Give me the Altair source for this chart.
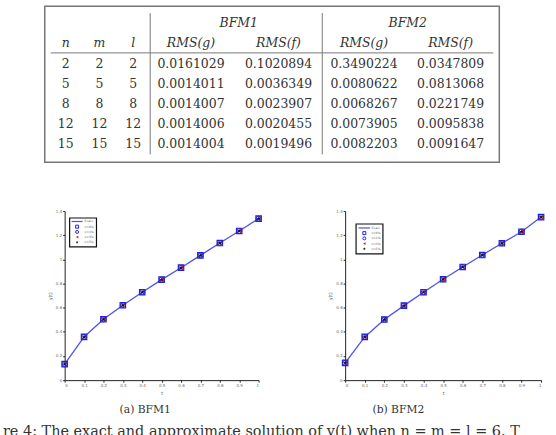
import altair as alt
import pandas as pd

# ---------------- table data ----------------
n_vals = [2, 5, 8, 12, 15]
m_vals = [2, 5, 8, 12, 15]
l_vals = [2, 5, 8, 12, 15]
bfm1_rms_g = [0.0161029, 0.0014011, 0.0014007, 0.0014006, 0.0014004]
bfm1_rms_f = [0.1020894, 0.0036349, 0.0023907, 0.0020455, 0.0019496]
bfm2_rms_g = [0.3490224, 0.0080622, 0.0068267, 0.0073905, 0.0082203]
bfm2_rms_f = [0.0347809, 0.0813068, 0.0221749, 0.0095838, 0.0091647]

# ---------------- plot data ----------------
t_vals = [0.0, 0.1, 0.2, 0.3, 0.4, 0.5, 0.6, 0.7, 0.8, 0.9, 1.0]
y_bfm1 = [0.132, 0.358, 0.504, 0.620, 0.728, 0.832, 0.931, 1.033, 1.135, 1.235, 1.337]
y_bfm2 = [0.143, 0.358, 0.502, 0.617, 0.728, 0.835, 0.937, 1.036, 1.133, 1.229, 1.350]
series = ["Exact", "σ=0%", "σ=1%", "σ=3%", "σ=5%"]
x_ticks = [0, 0.1, 0.2, 0.3, 0.4, 0.5, 0.6, 0.7, 0.8, 0.9, 1]
y_ticks = [0, 0.2, 0.4, 0.6, 0.8, 1.0, 1.2, 1.4]
captions = ["(a) BFM1", "(b) BFM2"]
footer_text = "re 4: The exact and approximate solution of y(t) when n = m = l = 6. T"

SERIF = "DejaVu Serif"
TXT = "#333333"
LINE_GRAY = "#777777"
BLUE_LINE = "#5050ec"
BLUE = "#2020dd"
RED = "#ee1111"
DARK = "#151515"
STAR = ("M0,-1L0.2245,-0.309L0.951,-0.309L0.363,0.118L0.588,0.809L0,0.382"
        "L-0.588,0.809L-0.363,0.118L-0.951,-0.309L-0.2245,-0.309Z")

one = pd.DataFrame({"k": [0]})

# ---------------- table chart ----------------
rows = [str(v) for v in n_vals]
tbl = pd.DataFrame({
    "row": rows, "n": n_vals, "m": m_vals, "l": l_vals,
    "g1": bfm1_rms_g, "f1": bfm1_rms_f, "g2": bfm2_rms_g, "f2": bfm2_rms_f,
})
row_y = alt.Y("row:N", scale=alt.Scale(type="point", domain=rows, range=[63, 144], padding=0), axis=None)

col_layout = [("n", 63, "d"), ("m", 97, "d"), ("l", 131, "d"),
              ("g1", 189, ".7f"), ("f1", 277, ".7f"), ("g2", 363, ".7f"), ("f2", 450, ".7f")]
header2 = [("n", 63), ("m", 97), ("l", 131), ("RMS(g)", 189), ("RMS(f)", 277), ("RMS(g)", 363), ("RMS(f)", 450)]
header1 = [("BFM1", 237), ("BFM2", 407)]

layers = []
layers.append(alt.Chart(one).mark_rect(filled=False, stroke=LINE_GRAY, strokeWidth=1.5).encode(
    x=alt.value(42), x2=alt.value(499), y=alt.value(5), y2=alt.value(162)))
layers.append(alt.Chart(one).mark_rule(color=LINE_GRAY, strokeWidth=1).encode(
    x=alt.value(48), x2=alt.value(493), y=alt.value(52)))
for vx in (148, 321):
    layers.append(alt.Chart(one).mark_rule(color=LINE_GRAY, strokeWidth=1).encode(
        x=alt.value(vx), y=alt.value(12), y2=alt.value(154)))
for txt, px in header1:
    layers.append(alt.Chart(one).mark_text(font=SERIF, fontSize=12.5, fontStyle="italic", color=TXT).encode(
        x=alt.value(px), y=alt.value(22), text=alt.value(txt)))
for txt, px in header2:
    layers.append(alt.Chart(one).mark_text(font=SERIF, fontSize=12.5, fontStyle="italic", color=TXT).encode(
        x=alt.value(px), y=alt.value(42), text=alt.value(txt)))
for col, px, fmt in col_layout:
    layers.append(alt.Chart(tbl).mark_text(font=SERIF, fontSize=12.5, color=TXT).encode(
        x=alt.value(px), y=row_y, text=alt.Text(f"{col}:Q", format=fmt)))

table = alt.layer(*layers).properties(width=556, height=170)


# ---------------- plots ----------------
def legend_layers(box, line_x, sym_x, txt_x, ys):
    out = []
    out.append(alt.Chart(one).mark_rect(fill="white", stroke="#111111", strokeWidth=1.2).encode(
        x=alt.value(box[0]), x2=alt.value(box[2]), y=alt.value(box[1]), y2=alt.value(box[3])))
    out.append(alt.Chart(one).mark_rule(color=BLUE_LINE, strokeWidth=1.2).encode(
        x=alt.value(line_x[0]), x2=alt.value(line_x[1]), y=alt.value(ys[0])))
    styles = [("square", False, BLUE, 9), ("circle", False, BLUE, 9),
              ("triangle-left", True, RED, 8), (STAR, True, DARK, 10)]
    for (shape, filled, col, size), yy in zip(styles, ys[1:]):
        out.append(alt.Chart(one).mark_point(shape=shape, filled=filled, color=col, size=size,
                                             strokeWidth=1, opacity=1).encode(
            x=alt.value(sym_x), y=alt.value(yy)))
    for label, yy in zip(series, ys):
        out.append(alt.Chart(one).mark_text(font="DejaVu Sans", fontSize=3, color="#555555",
                                            align="left", baseline="middle").encode(
            x=alt.value(txt_x), y=alt.value(yy), text=alt.value(label)))
    return out


def make_plot(yvals, w, leg):
    df = pd.DataFrame({"t": t_vals, "y": yvals})
    x = alt.X("t:Q", scale=alt.Scale(domain=[0, 1], nice=False),
              axis=alt.Axis(values=x_ticks, format="~g", title="t"))
    y = alt.Y("y:Q", scale=alt.Scale(domain=[0, 1.4], nice=False),
              axis=alt.Axis(values=y_ticks, format="~g", title="y(t)"))
    base = alt.Chart(df)
    line = base.mark_line(strokeWidth=1.3, color=BLUE_LINE).encode(x=x, y=y)
    sq = base.mark_point(shape="square", filled=False, color=BLUE, size=30, strokeWidth=1.2, opacity=1).encode(x=x, y=y)
    ci = base.mark_point(shape="circle", filled=False, color=BLUE, size=24, strokeWidth=1, opacity=1).encode(x=x, y=y)
    tr = base.mark_point(shape="triangle-left", filled=True, color=RED, size=14, opacity=1).encode(x=x, y=y)
    st = base.mark_point(shape=STAR, filled=True, color=DARK, size=22, opacity=1).encode(x=x, y=y)
    return alt.layer(line, sq, ci, tr, st, *leg).properties(width=w, height=170)


def spacer(w):
    return alt.Chart(one).mark_point(opacity=0).encode(x=alt.value(0), y=alt.value(0)).properties(width=w, height=170)


leg1 = legend_layers((5, 7, 32, 36), (7, 18), 12.5, 20, [10.5, 15.7, 21.0, 26.2, 31.4])
leg2 = legend_layers((11, 13, 38, 43), (13.5, 25), 19.3, 26.5, [17.0, 22.2, 27.5, 32.7, 38.0])

p1 = make_plot(y_bfm1, 195, leg1)
p2 = make_plot(y_bfm2, 197, leg2)

plots = alt.hconcat(spacer(44), p1, spacer(60), p2, spacing=0)

footer_layers = [
    alt.Chart(one).mark_text(font=SERIF, fontSize=10.8, color=TXT, align="center", baseline="middle").encode(
        x=alt.value(143), y=alt.value(15.5), text=alt.value(captions[0])),
    alt.Chart(one).mark_text(font=SERIF, fontSize=10.8, color=TXT, align="center", baseline="middle").encode(
        x=alt.value(397.5), y=alt.value(15.5), text=alt.value(captions[1])),
    alt.Chart(one).mark_text(font=SERIF, fontSize=14.5, color=TXT, align="left", baseline="alphabetic").encode(
        x=alt.value(0), y=alt.value(41.5), text=alt.value(footer_text)),
]
footer = alt.layer(*footer_layers).properties(width=556, height=40)

lower = alt.vconcat(plots, footer, spacing=0)

chart = alt.vconcat(table, lower, spacing=38).properties(
    padding=0, background="white"
).configure_view(stroke=None).configure_axis(
    grid=False, labelFontSize=4, labelColor="#666666", labelFont="DejaVu Sans",
    tickSize=2, tickColor="#222222", domainColor="#222222", domainWidth=1,
    titleFontSize=4.5, titleFontWeight="normal", titleColor="#555555", titleFont="DejaVu Sans",
    labelPadding=1, titlePadding=3,
)

chart.save("out.html", embed_options={"renderer": "svg", "actions": False})
